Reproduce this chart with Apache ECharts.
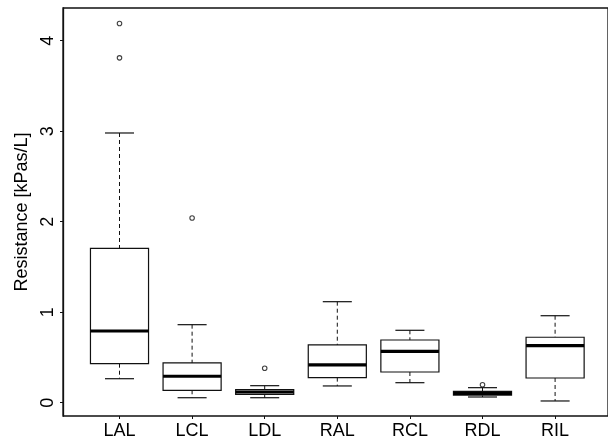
<!DOCTYPE html>
<html>
<head>
<meta charset="utf-8">
<script src="https://cdn.jsdelivr.net/npm/echarts@6/dist/echarts.min.js"></script>
<style>
  html, body { margin: 0; padding: 0; background: #fff; }
  #chart { width: 608px; height: 440px; }
</style>
</head>
<body>
<div id="chart"></div>
<script>
// Airway resistance per lung region
const categories = ['LAL', 'LCL', 'LDL', 'RAL', 'RCL', 'RDL', 'RIL'];
const lowerWhisker = [0.265, 0.055, 0.055, 0.185, 0.221, 0.063, 0.019];
const quartile1    = [0.431, 0.137, 0.093, 0.277, 0.339, 0.082, 0.273];
const medians      = [0.792, 0.292, 0.118, 0.417, 0.568, 0.104, 0.630];
const quartile3    = [1.706, 0.439, 0.144, 0.638, 0.693, 0.126, 0.723];
const upperWhisker = [2.980, 0.862, 0.188, 1.116, 0.800, 0.166, 0.961];
// outliers as [category index, value]
const outliers = [[0, 4.19], [0, 3.81], [1, 2.04], [2, 0.38], [5, 0.199]];
const yTicks = [0, 1, 2, 3, 4];
const yLabel = 'Resistance [kPas/L]';

const FONT = '"Liberation Sans", Arial, sans-serif';
const Y_MIN = -0.147, Y_MAX = 4.361;

const boxData = categories.map((c, i) =>
  [i, lowerWhisker[i], quartile1[i], medians[i], quartile3[i], upperWhisker[i]]);

function renderBox(params, api) {
  const i = api.value(0);
  const lo = api.coord([i, api.value(1)]);
  const q1 = api.coord([i, api.value(2)]);
  const md = api.coord([i, api.value(3)]);
  const q3 = api.coord([i, api.value(4)]);
  const hi = api.coord([i, api.value(5)]);
  const band = api.size([1, 0])[0];
  const bw = band * 0.8;
  const cw = bw * 0.5;
  const x = lo[0];
  const ink = '#111';
  const dash = { stroke: ink, lineWidth: 1, lineDash: [4, 3] };
  const solid = { stroke: ink, lineWidth: 1.2 };
  return {
    type: 'group',
    children: [
      { type: 'line', shape: { x1: x, y1: hi[1], x2: x, y2: q3[1] }, style: dash },
      { type: 'line', shape: { x1: x, y1: q1[1], x2: x, y2: lo[1] }, style: dash },
      { type: 'line', shape: { x1: x - cw / 2, y1: hi[1], x2: x + cw / 2, y2: hi[1] }, style: solid },
      { type: 'line', shape: { x1: x - cw / 2, y1: lo[1], x2: x + cw / 2, y2: lo[1] }, style: solid },
      { type: 'rect', shape: { x: x - bw / 2, y: q3[1], width: bw, height: q1[1] - q3[1] },
        style: { fill: '#fff', stroke: ink, lineWidth: 1.2 } },
      { type: 'line', shape: { x1: x - bw / 2, y1: md[1], x2: x + bw / 2, y2: md[1] },
        style: { stroke: '#000', lineWidth: 3.2 } }
    ]
  };
}

const chart = echarts.init(document.getElementById('chart'), null, { renderer: 'canvas' });
chart.setOption({
  animation: false,
  backgroundColor: '#fff',
  textStyle: { fontFamily: FONT },
  grid: [
    { left: 63, top: 8, width: 549, height: 408, show: true,
      borderColor: '#111', borderWidth: 1.3, backgroundColor: 'transparent' },
    { left: 83.2, top: 8, width: 508.2, height: 408 }
  ],
  xAxis: [
    { type: 'value', gridIndex: 0, show: false, min: 0, max: 1 },
    { type: 'category', gridIndex: 1, data: categories, boundaryGap: true, position: 'bottom',
      axisLine: { show: false, onZero: false },
      axisTick: { show: true, alignWithLabel: true, length: 3, lineStyle: { color: '#111' } },
      axisLabel: { color: '#000', fontSize: 18, fontFamily: FONT, margin: 6 },
      splitLine: { show: false } }
  ],
  yAxis: [
    { type: 'value', gridIndex: 0, min: Y_MIN, max: Y_MAX,
      name: yLabel, nameLocation: 'middle', nameGap: 31, nameRotate: 90,
      nameTextStyle: { color: '#000', fontSize: 18, fontFamily: FONT },
      axisLine: { show: true, onZero: false, lineStyle: { color: '#111', width: 1.3 } },
      axisTick: { show: true, length: 3, customValues: yTicks, lineStyle: { color: '#111' } },
      axisLabel: { color: '#000', fontSize: 18, fontFamily: FONT, rotate: 90, margin: 6,
        customValues: yTicks },
      splitLine: { show: false } },
    { type: 'value', gridIndex: 1, min: Y_MIN, max: Y_MAX, show: false, splitLine: { show: false } }
  ],
  series: [
    { type: 'custom', xAxisIndex: 1, yAxisIndex: 1, data: boxData,
      encode: { x: 0, y: [1, 2, 3, 4, 5] }, renderItem: renderBox, clip: false },
    { type: 'scatter', xAxisIndex: 1, yAxisIndex: 1, data: outliers,
      symbol: 'circle', symbolSize: 4.5,
      itemStyle: { color: '#fff', borderColor: '#111', borderWidth: 1.1 } }
  ]
});
</script>
</body>
</html>
